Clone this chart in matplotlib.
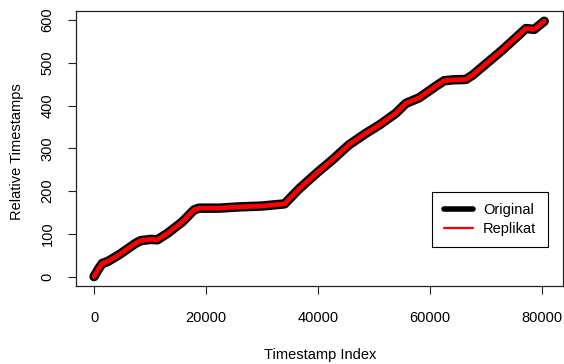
import numpy as np
import matplotlib
matplotlib.use("Agg")
import matplotlib.pyplot as plt

plt.rcParams['font.family'] = ['Liberation Sans', 'DejaVu Sans']

# values
idx = [0, 900, 1500, 2400, 4460, 7440, 8330, 10120, 11300, 13100, 15770,
       17860, 18750, 22300, 26000, 30000, 34000, 36600, 40000, 42560, 45500,
       48520, 51000, 53880, 55670, 58040, 61000, 62500, 64000, 66380, 67570,
       72920, 77100, 78580, 80370]
ts = [0, 20, 31, 35, 51, 78, 84, 87, 86, 101, 128,
      156, 160, 160, 163, 165, 170, 205, 245, 273, 308,
      335, 355, 382, 405, 418, 445, 458, 460, 461, 471,
      530, 580, 578, 597]
xticks = [0, 20000, 40000, 60000, 80000]
yticks = [0, 100, 200, 300, 400, 500, 600]

W, H = 564, 364
fig = plt.figure(figsize=(W / 100, H / 100), dpi=100)
l, r, t, b = 76, 563, 11, 286
ax = fig.add_axes([l / W, 1 - b / H, (r - l) / W, (b - t) / H])

ax.plot(idx, ts, color='black', lw=6.8, solid_capstyle='round',
        solid_joinstyle='round', label='Original')
ax.plot(idx, ts, color='#ff0000', lw=3.4, solid_capstyle='round',
        solid_joinstyle='round', label='Replikat')

ax.set_xlim(-3220, 83720)
ax.set_ylim(-22, 621)
ax.set_xticks(xticks)
ax.set_yticks(yticks)
ax.set_xticklabels([str(v) for v in xticks])
ax.set_yticklabels([str(v) for v in yticks], rotation=90, va='center')
ax.tick_params(direction='out', length=5.5, width=0.8, labelsize=10.5,
               color='#222222')
ax.tick_params(axis='x', pad=12.5)
ax.tick_params(axis='y', pad=10)
for s in ax.spines.values():
    s.set_linewidth(0.9)
    s.set_color('#222222')

fig.text(320 / W, 1 - 355 / H, 'Timestamp Index', ha='center', va='center',
         fontsize=10.5)
fig.text(17 / W, 1 - 152 / H, 'Relative Timestamps', ha='center',
         va='center', rotation=90, fontsize=10.5)

leg = ax.legend(loc='upper left', bbox_to_anchor=(432 / W, 1 - 191.7 / H),
                bbox_transform=fig.transFigure, fancybox=False,
                edgecolor='black', fontsize=10.5, handlelength=2.0,
                handletextpad=0.7, labelspacing=0.3, borderpad=0.8,
                borderaxespad=0, framealpha=1)
leg.get_frame().set_linewidth(0.8)
leg.legend_handles[0].set_linewidth(4)
leg.legend_handles[1].set_linewidth(1.6)

fig.savefig('out.png', dpi=100)
